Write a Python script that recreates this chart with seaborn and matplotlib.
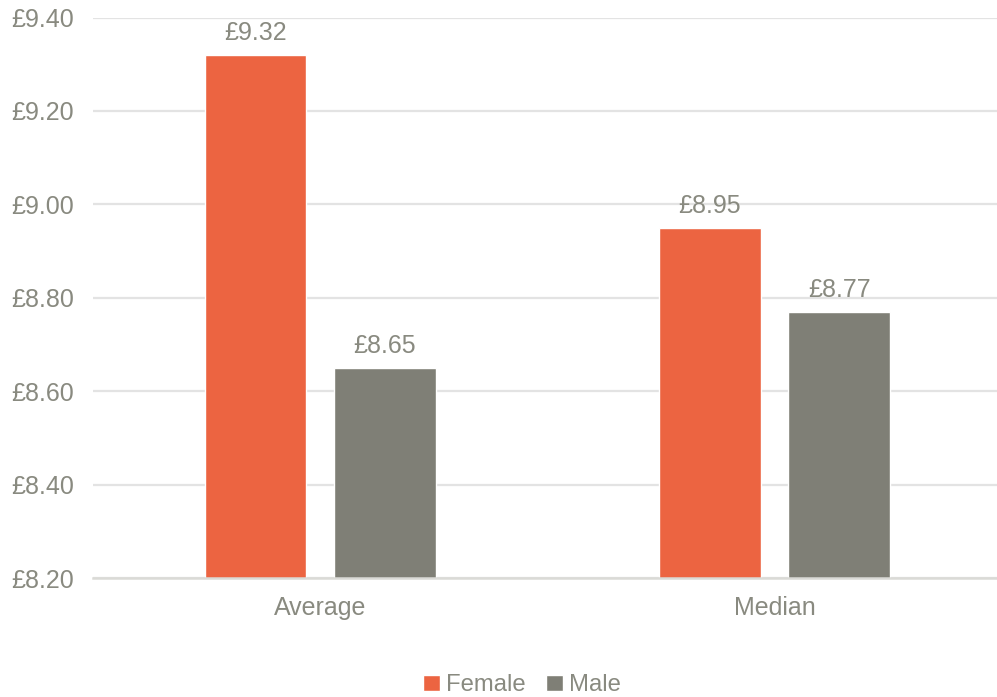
import matplotlib
matplotlib.use("Agg")
import matplotlib.pyplot as plt
import seaborn as sns
import pandas as pd

categories = ["Average", "Median"]
genders = ["Female", "Male"]
female_values = [9.32, 8.95]
male_values = [8.65, 8.77]
ytick_values = [8.20, 8.40, 8.60, 8.80, 9.00, 9.20, 9.40]

df = pd.DataFrame({
    "Measure": categories * 2,
    "Gender": ["Female"] * len(categories) + ["Male"] * len(categories),
    "Pay": female_values + male_values,
})

sns.set_theme(style="white")
plt.rcParams["font.family"] = ["Liberation Sans", "DejaVu Sans"]
text_color = "#898A80"
grid_color = "#E3E3E3"
palette = {"Female": "#EC6441", "Male": "#7F7F76"}
fs = 18

fig = plt.figure(figsize=(9.97, 6.97), dpi=100)
ax = fig.add_axes([93 / 997, 1 - 578 / 697, 1 - 93 / 997, (578 - 17.5) / 697])

sns.barplot(data=df, x="Measure", y="Pay", hue="Gender", order=categories,
            hue_order=genders, palette=palette, width=0.57, gap=0.214,
            ax=ax, legend=True, zorder=3, saturation=1)

ax.set_ylim(8.2, 9.4)
ax.set_xlim(-0.5, 1.49)
ax.set_yticks(ytick_values)
ax.set_yticklabels([f"£{v:.2f}" for v in ytick_values])
ax.yaxis.grid(True, color=grid_color, linewidth=1.6, zorder=0)
ax.set_axisbelow(True)
for s in ["top", "right", "left"]:
    ax.spines[s].set_visible(False)
ax.spines["bottom"].set_color("#DADAD6")
ax.spines["bottom"].set_linewidth(1.8)
ax.spines["bottom"].set_zorder(4)
ax.tick_params(axis="y", length=0, pad=0, labelsize=fs, labelcolor=text_color)
ax.tick_params(axis="x", length=0, pad=13, labelsize=fs, labelcolor=text_color)
for lab in ax.get_yticklabels():
    lab.set_horizontalalignment("left")
    lab.set_transform(ax.get_yaxis_transform())
    lab.set_position((-82 / 904, lab.get_position()[1]))
ax.set_xlabel("")
ax.set_ylabel("")

for cont in ax.containers:
    ax.bar_label(cont, labels=[f"£{b.get_height():.2f}" for b in cont],
                 padding=7, fontsize=fs, color=text_color)

leg = ax.legend(loc="lower center", ncol=2, frameon=False,
                fontsize=17.2, handlelength=0.7, handleheight=0.7,
                handletextpad=0.25, columnspacing=0.85, borderaxespad=0)
for t in leg.get_texts():
    t.set_color(text_color)
leg.set_bbox_to_anchor((522 / 997, -9 / 697), transform=fig.transFigure)

fig.savefig("out.png", dpi=100)
